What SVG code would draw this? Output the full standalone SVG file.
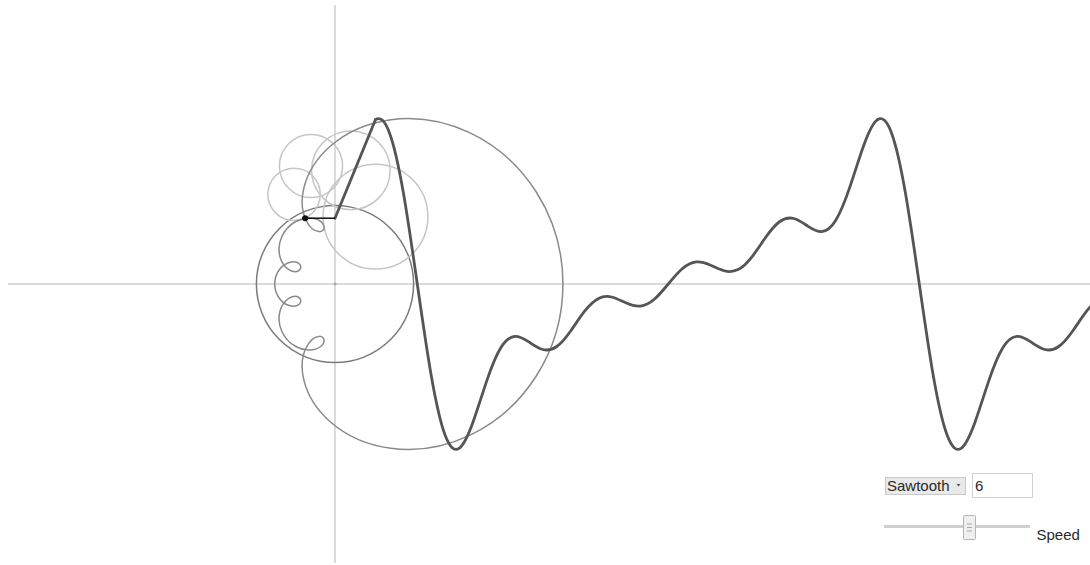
<svg xmlns="http://www.w3.org/2000/svg" xmlns:xlink="http://www.w3.org/1999/xlink" width="1090" height="565" viewBox="0 0 1090 565">
<style>
.axis{stroke:#cfcfcf;stroke-width:1.5;fill:none}
.c1{stroke:#7a7a7a;stroke-width:1.5;fill:none}
.cl{stroke:#c6c6c6;stroke-width:1.5;fill:none}
.trace{stroke:#8a8a8a;stroke-width:1.5;fill:none}
.wave{stroke:#555;stroke-width:2.8;fill:none;stroke-linejoin:round;stroke-linecap:round}
.conn{stroke:#111;stroke-width:1.5;fill:none}
.lbl{font-family:"Liberation Sans",Arial,sans-serif;font-size:15px;fill:#2a2a2a}
</style>
<defs>
<path id="period" d="M375.44 119.69 C380.09 116.44 384.74 120.29 389.39 132.64 C394.04 144.98 398.68 165.82 403.33 192.5 C407.98 219.18 412.63 251.53 417.28 284 C421.93 316.47 426.57 348.82 431.22 375.5 C435.87 402.18 440.52 423.02 445.17 435.36 C449.82 447.71 454.46 451.56 459.11 448.31 C463.76 445.06 468.41 434.86 473.06 421.95 C477.71 409.05 482.35 393.63 487.0 380.09 C491.65 366.55 496.30 355.0 500.95 347.53 C505.6 340.06 510.24 336.65 514.89 336.38 C519.54 336.11 524.19 338.85 528.84 341.93 C533.49 345.0 538.13 348.28 542.78 349.5 C547.43 350.72 552.08 349.83 556.73 346.5 C561.38 343.17 566.02 337.47 570.67 330.94 C575.32 324.41 579.97 317.17 584.62 311.23 C589.27 305.28 593.91 300.72 598.56 298.39 C603.21 296.06 607.86 295.97 612.51 297.24 C617.16 298.51 621.8 301.06 626.45 303.09 C631.1 305.12 635.75 306.54 640.4 306.08 C645.05 305.61 649.69 303.25 654.34 299.24 C658.99 295.23 663.64 289.64 668.29 284 C672.94 278.36 677.58 272.77 682.23 268.76 C686.88 264.75 691.53 262.39 696.18 261.92 C700.83 261.46 705.47 262.88 710.12 264.91 C714.77 266.94 719.42 269.49 724.07 270.76 C728.72 272.03 733.36 271.94 738.01 269.61 C742.66 267.28 747.31 262.72 751.96 256.77 C756.61 250.83 761.25 243.59 765.9 237.06 C770.55 230.53 775.2 224.83 779.85 221.5 C784.5 218.17 789.14 217.28 793.79 218.5 C798.44 219.72 803.09 223.0 807.74 226.08 C812.39 229.15 817.03 231.89 821.68 231.62 C826.33 231.35 830.98 227.94 835.63 220.47 C840.28 213.0 844.92 201.45 849.57 187.91 C854.22 174.37 858.87 158.95 863.52 146.05 C868.17 133.14 872.81 122.94 877.46 119.69"/>
</defs>
<rect width="1090" height="565" fill="#fff"/>
<g id="axes">
<line class="axis" x1="8" y1="284" x2="1090" y2="284"/>
<line class="axis" x1="335" y1="5" x2="335" y2="563"/>
<circle cx="335" cy="284" r="1.6" fill="#aaa"/>
</g>
<g id="circles">
<circle id="circle1" class="c1" cx="335" cy="284" r="78.6"/>
<circle id="circle2" class="cl" cx="375.48" cy="216.63" r="52.4"/>
<circle id="circle3" class="cl" cx="350.88" cy="170.36" r="39.3"/>
<circle id="circle4" class="cl" cx="311" cy="166" r="31.6"/>
<circle id="circle5" class="cl" cx="294.05" cy="194.36" r="26.2"/>
</g>
<g id="trace">
<path class="trace" d="M562.94 284 C562.94 251.53 553.46 219.18 536.61 192.5 C519.76 165.82 495.69 144.98 469.56 132.64 C443.43 120.30 415.43 116.44 390.86 119.69 C366.29 122.94 345.28 133.15 330.50 146.05 C315.72 158.96 307.15 174.37 303.88 187.91 C300.61 201.45 302.48 213.0 306.18 220.47 C309.88 227.94 315.23 231.35 318.97 231.62 C322.71 231.89 324.75 229.16 323.91 226.08 C323.07 223.0 319.38 219.72 314.04 218.5 C308.71 217.28 301.86 218.17 295.78 221.5 C289.70 224.83 284.50 230.53 281.67 237.06 C278.84 243.59 278.40 250.83 279.98 256.77 C281.56 262.72 285.10 267.28 288.83 269.61 C292.56 271.94 296.38 272.03 298.61 270.76 C300.84 269.49 301.44 266.94 300.10 264.91 C298.76 262.88 295.53 261.46 291.64 261.92 C287.76 262.38 283.31 264.75 280.04 268.76 C276.77 272.77 274.74 278.36 274.74 284 C274.74 289.64 276.77 295.23 280.04 299.24 C283.31 303.25 287.76 305.62 291.64 306.08 C295.53 306.54 298.76 305.12 300.10 303.09 C301.44 301.06 300.84 298.51 298.61 297.24 C296.38 295.97 292.56 296.06 288.83 298.39 C285.10 300.72 281.56 305.28 279.98 311.23 C278.40 317.17 278.84 324.41 281.67 330.94 C284.50 337.47 289.70 343.17 295.78 346.5 C301.86 349.83 308.71 350.72 314.04 349.5 C319.38 348.28 323.07 345.0 323.91 341.92 C324.75 338.84 322.71 336.11 318.97 336.38 C315.23 336.65 309.88 340.06 306.18 347.53 C302.48 355.0 300.61 366.55 303.88 380.09 C307.15 393.63 315.72 409.05 330.50 421.95 C345.28 434.86 366.29 445.06 390.86 448.31 C415.43 451.56 443.43 447.70 469.56 435.36 C495.69 423.02 519.76 402.18 536.61 375.5 C553.46 348.82 562.94 316.47 562.94 284 Z"/>
</g>
<g id="wave">
<path class="wave" d="M335 218.2 L375.44 119.69"/>
<use xlink:href="#period" href="#period" class="wave"/>
<use xlink:href="#period" href="#period" class="wave" transform="translate(502.02 0)"/>
</g>
<g id="connectors">
<line class="conn" x1="305.1" y1="218.2" x2="335" y2="218.2"/>
<circle cx="305.1" cy="218.2" r="3" fill="#111"/>
</g>
<g id="controls">
<g id="select">
<rect x="885.5" y="477.5" width="80" height="17" fill="#e9e9e9" stroke="#c9c9c9"/>
<text class="lbl" x="887" y="490.5">Sawtooth</text>
<path d="M956.5 484 L960.5 484 L958.5 486.5 Z" fill="#555"/>
</g>
<g id="count">
<rect x="972.5" y="473.5" width="60" height="24" fill="#fff" stroke="#d0d0d0"/>
<text class="lbl" x="975" y="490.5">6</text>
</g>
<g id="slider">
<line x1="884" y1="526.5" x2="1030" y2="526.5" stroke="#cfcfcf" stroke-width="3"/>
<rect x="963.5" y="515.5" width="12" height="24" rx="1" fill="#efefef" stroke="#b5b5b5"/>
<line x1="967" y1="524" x2="972" y2="524" stroke="#aaa"/>
<line x1="967" y1="527.5" x2="972" y2="527.5" stroke="#aaa"/>
<line x1="967" y1="531" x2="972" y2="531" stroke="#aaa"/>
<text class="lbl" x="1036.5" y="540">Speed</text>
</g>
</g>
</svg>
